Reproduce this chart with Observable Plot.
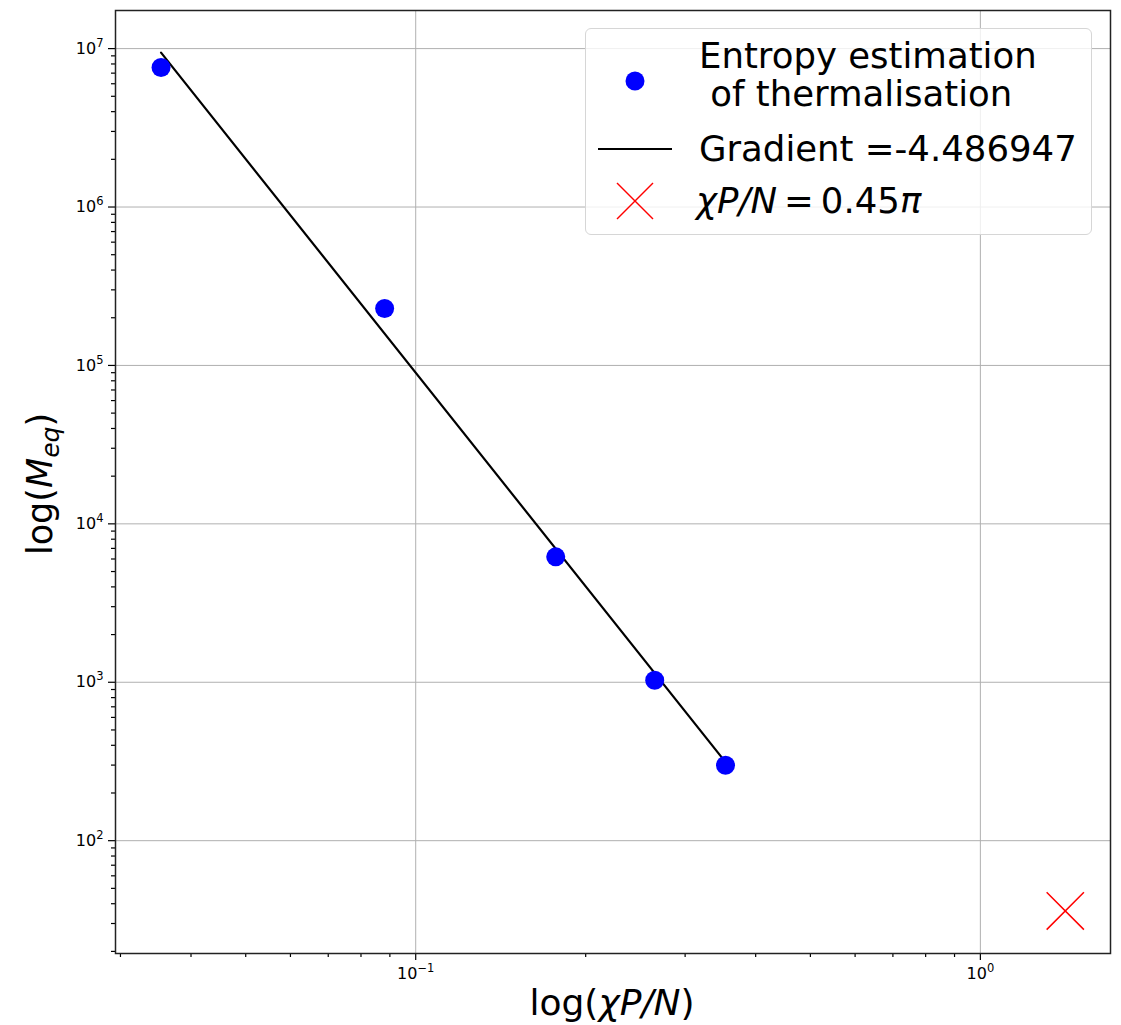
<!DOCTYPE html>
<html>
<head>
<meta charset="utf-8">
<script src="https://cdn.jsdelivr.net/npm/d3@7"></script>
<script src="https://cdn.jsdelivr.net/npm/@observablehq/plot@0.6"></script>
<style>
  html, body { margin: 0; padding: 0; background: #fff; }
  #wrap { position: relative; width: 1121px; height: 1025px; overflow: hidden; font-family: "DejaVu Sans", sans-serif; }
  #legend { position: absolute; left: 585px; top: 28px; width: 507px; height: 207px; box-sizing: border-box;
            border: 1.5px solid #d6d6d6; border-radius: 6px; background: rgba(255,255,255,0.8); }
  #legend .row { position: absolute; left: 0; font-size: 35.5px; color: #000; line-height: 38px; white-space: pre; }
  #legend svg { position: absolute; }
</style>
</head>
<body>
<div id="wrap"></div>
<script>
// ---- data ----
const chiPN = [0.0354, 0.0881, 0.177, 0.265, 0.3537];
const Meq   = [7.59e6, 2.29e5, 6190, 1029, 299];
const fitX  = [0.0354, 0.3537];
const fitY  = [9.44e6, 313];
const markX = [0.45 * Math.PI];
const markY = [36];
const xMajor = [0.1, 1];
const xMajorExp = ["−1", "0"];
const yMajor = [1e2, 1e3, 1e4, 1e5, 1e6, 1e7];
const yMajorExp = ["2", "3", "4", "5", "6", "7"];
const legendLabels = ["Entropy estimation\n of thermalisation", "Gradient =-4.486947"];

const minorTicks = (lo, hi) => {
  const out = [];
  for (let e = Math.floor(Math.log10(lo)); e <= Math.ceil(Math.log10(hi)); e++)
    for (let k = 2; k <= 9; k++) { const v = k * 10 ** e; if (v >= lo && v <= hi) out.push(v); }
  return out;
};

const xDomain = [0.0294, 1.70];
const yDomain = [19.4, 1.74e7];

const points = chiPN.map((x, i) => ({x, y: Meq[i]}));
const fit = fitX.map((x, i) => ({x, y: fitY[i]}));
const marks = markX.map((x, i) => ({x, y: markY[i]}));

const chart = Plot.plot({
  width: 1121, height: 1025,
  marginLeft: 115, marginRight: 11, marginTop: 10, marginBottom: 72,
  style: {fontFamily: "DejaVu Sans, sans-serif", fontSize: "16px", color: "#000", background: "#fff"},
  x: {type: "log", domain: xDomain},
  y: {type: "log", domain: yDomain},
  marks: [
    Plot.gridX(xMajor, {stroke: "#b0b0b0", strokeOpacity: 1, strokeWidth: 1}),
    Plot.gridY(yMajor, {stroke: "#b0b0b0", strokeOpacity: 1, strokeWidth: 1}),
    Plot.axisX(minorTicks(...xDomain), {tickSize: 4, tickFormat: () => "", strokeWidth: 1.2, label: null}),
    Plot.axisY(minorTicks(...yDomain), {tickSize: 4, tickFormat: () => "", strokeWidth: 1.2, label: null}),
    Plot.axisX(xMajor, {tickSize: 7, tickPadding: 7, strokeWidth: 1.2, fontSize: 16,
      tickFormat: (d) => "10^" + xMajorExp[xMajor.indexOf(d)], label: null, ariaLabel: "xmajor"}),
    Plot.axisY(yMajor, {tickSize: 7, tickPadding: 5, strokeWidth: 1.2, fontSize: 16,
      tickFormat: (d) => "10^" + yMajorExp[yMajor.indexOf(d)], label: null, ariaLabel: "ymajor"}),
    Plot.line(fit, {x: "x", y: "y", stroke: "black", strokeWidth: 2.2}),
    Plot.dot(points, {x: "x", y: "y", r: 9.5, fill: "#0000ff", stroke: "none"}),
    Plot.dot(marks, {x: "x", y: "y", symbol: "times", r: 17, stroke: "#ff0000", strokeWidth: 1.5}),
    Plot.frame({stroke: "#222", strokeWidth: 1.5})
  ]
});

const wrap = document.getElementById("wrap");
wrap.appendChild(chart);

const svg = d3.select(chart);
// superscript tick labels
svg.selectAll("text").each(function () {
  const t = d3.select(this);
  const s = t.text();
  if (s.startsWith("10^")) {
    const exp = s.slice(3);
    t.text(null);
    t.append("tspan").text("10");
    t.append("tspan").attr("font-size", 11.5).attr("dy", "-0.6em").text(exp);
  }
});

// axis titles
const xl = svg.append("text").attr("x", 612).attr("y", 1015).attr("text-anchor", "middle")
  .attr("font-size", 36).attr("font-family", "DejaVu Sans, sans-serif").attr("fill", "#000");
xl.append("tspan").text("log(");
xl.append("tspan").attr("font-style", "italic").text("χP/N");
xl.append("tspan").text(")");

const yl = svg.append("text").attr("transform", "translate(52,484) rotate(-90)").attr("text-anchor", "middle")
  .attr("font-size", 35).attr("font-family", "DejaVu Sans, sans-serif").attr("fill", "#000");
yl.append("tspan").text("log(");
yl.append("tspan").attr("font-style", "italic").text("M");
yl.append("tspan").attr("font-style", "italic").attr("font-size", 25).attr("dy", 7).text("eq");
yl.append("tspan").attr("dy", -7).text(")");

// legend
const lg = document.createElement("div");
lg.id = "legend";
lg.innerHTML = `
  <svg style="left:37px;top:40px" width="24" height="24"><circle cx="12" cy="12" r="9.5" fill="#0000ff"/></svg>
  <div class="row" style="left:113px;top:8px;">${legendLabels[0]}</div>
  <svg style="left:12px;top:112px" width="76" height="16"><line x1="0" y1="8" x2="74" y2="8" stroke="black" stroke-width="2.2"/></svg>
  <div class="row" style="left:113px;top:101px;">${legendLabels[1]}</div>
  <svg style="left:29px;top:152px" width="40" height="40"><line x1="2" y1="2" x2="38" y2="38" stroke="#ff0000" stroke-width="1.5"/><line x1="38" y1="2" x2="2" y2="38" stroke="#ff0000" stroke-width="1.5"/></svg>
  <div class="row" style="left:110px;top:153px;"><i>χP/N</i>&#8201;=&#8201;0.45<i>π</i></div>
`;
wrap.appendChild(lg);
</script>
</body>
</html>
